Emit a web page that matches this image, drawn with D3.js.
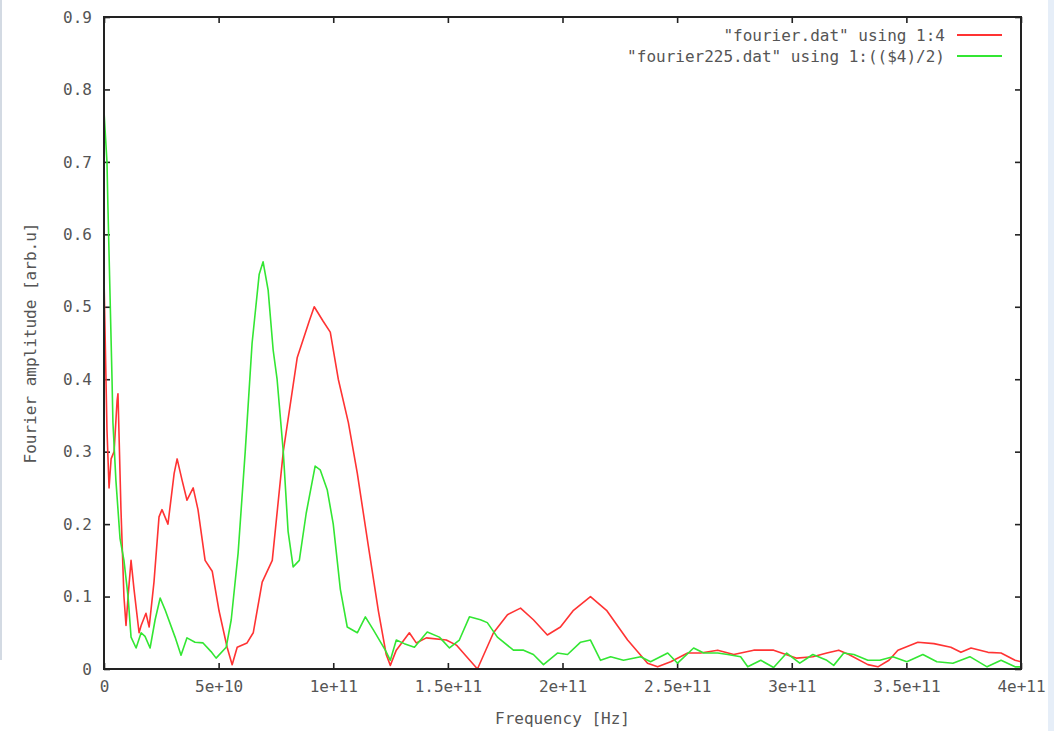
<!DOCTYPE html>
<html>
<head>
<meta charset="utf-8">
<script src="https://cdn.jsdelivr.net/npm/d3@7"></script>
<style>
  html, body { margin: 0; padding: 0; background: #fff; }
  svg text { font-family: "DejaVu Sans Mono", "Liberation Mono", monospace; font-size: 16px; fill: #555; }
  .axis path { display: none; }
  .axis line { stroke: #222; stroke-width: 1.6; }
</style>
</head>
<body>
<div id="chart"></div>
<script>
// frequencies in units of 1e9 Hz, amplitudes in arb. units
const redFreq = [0, 1.3, 2.2, 3.1, 4.4, 5.7, 6.1, 7.4, 8.7, 9.6, 10.5, 11.8, 13.1, 15.3, 16.2, 18.3, 19.7,
  21.8, 24.0, 25.3, 27.9, 30.6, 31.9, 34.1, 36.2, 38.9, 41.0, 44.1, 47.2, 50.2, 53.7, 55.9, 58.1,
  62.4, 65.1, 69.0, 73.4, 78.2, 84.3, 89.5, 91.7, 95.6, 98.7, 102.2, 106.6, 110.5, 115.3, 119.7,
  123.1, 124.9, 127.5, 133.2, 136.2, 140.6, 149.3, 153.7, 162.9, 169.9, 176.0, 181.7, 187.3, 193.4,
  199.1, 204.8, 212.2, 219.2, 228.4, 237.1, 241.5, 247.2, 254.6, 260.3, 267.7, 274.7, 283.4, 292.1,
  302.2, 309.2, 315.3, 320.5, 324.9, 333.2, 337.6, 342.4, 346.3, 355.0, 362.0, 369.4, 373.8, 378.2,
  385.6, 391.3, 397.4, 400];
const redAmp = [0.54, 0.33, 0.25, 0.29, 0.30, 0.37, 0.38, 0.22, 0.10, 0.06, 0.10, 0.15, 0.11, 0.05, 0.06, 0.077, 0.058,
  0.12, 0.21, 0.22, 0.20, 0.27, 0.29, 0.26, 0.233, 0.25, 0.22, 0.15, 0.135, 0.08, 0.03, 0.006, 0.03,
  0.036, 0.05, 0.12, 0.15, 0.30, 0.43, 0.48, 0.50, 0.48, 0.465, 0.40, 0.34, 0.27, 0.17, 0.08,
  0.02, 0.005, 0.026, 0.05, 0.036, 0.043, 0.04, 0.033, 0.0, 0.05, 0.075, 0.084, 0.068, 0.047,
  0.058, 0.081, 0.10, 0.081, 0.04, 0.008, 0.003, 0.01, 0.022, 0.022, 0.026, 0.02, 0.026, 0.026,
  0.015, 0.017, 0.022, 0.026, 0.02, 0.006, 0.003, 0.012, 0.026, 0.037, 0.035, 0.03, 0.023, 0.029,
  0.023, 0.022, 0.012, 0.01];

const greenFreq = [0, 1.3, 1.7, 3.5, 3.9, 5.2, 7.0, 8.7, 10.5, 11.8, 14.0, 16.2, 17.9, 20.1, 22.3, 24.5,
  26.6, 31.0, 33.6, 36.2, 39.7, 43.2, 46.7, 48.9, 53.3, 55.5, 58.5, 61.6, 64.6, 67.7, 69.4, 71.6,
  73.8, 75.5, 78.2, 80.3, 82.5, 85.2, 88.2, 92.1, 94.3, 97.4, 100.0, 103.1, 106.1, 110.5, 114.0,
  117.5, 122.7, 124.9, 127.5, 131.0, 135.4, 141.0, 146.3, 150.7, 155.0, 159.4, 164.2, 167.2, 171.6,
  178.6, 183.0, 187.3, 191.7, 197.8, 202.2, 207.9, 212.2, 216.6, 221.0, 226.6, 234.1, 238.4, 245.9,
  250.2, 257.2, 261.6, 267.7, 272.1, 277.7, 280.8, 286.5, 292.1, 297.8, 303.5, 309.2, 315.3, 318.3,
  322.7, 327.1, 333.2, 338.4, 344.1, 350.2, 357.2, 363.3, 370.3, 377.7, 385.2, 391.3, 397.4, 400];
const greenAmp = [0.77, 0.70, 0.64, 0.40, 0.34, 0.26, 0.18, 0.15, 0.10, 0.044, 0.029, 0.05, 0.045, 0.029, 0.068, 0.098,
  0.082, 0.044, 0.019, 0.043, 0.037, 0.036, 0.024, 0.015, 0.03, 0.068, 0.16, 0.30, 0.45, 0.545, 0.562, 0.523,
  0.44, 0.40, 0.30, 0.19, 0.141, 0.15, 0.215, 0.28, 0.275, 0.247, 0.20, 0.11, 0.058, 0.05, 0.072,
  0.054, 0.026, 0.012, 0.04, 0.035, 0.03, 0.051, 0.044, 0.029, 0.04, 0.072, 0.068, 0.064, 0.044,
  0.026, 0.026, 0.02, 0.006, 0.022, 0.02, 0.037, 0.04, 0.012, 0.017, 0.012, 0.017, 0.01, 0.022,
  0.008, 0.029, 0.022, 0.022, 0.02, 0.017, 0.003, 0.012, 0.002, 0.022, 0.008, 0.02, 0.012, 0.005,
  0.022, 0.02, 0.012, 0.012, 0.017, 0.01, 0.02, 0.01, 0.008, 0.017, 0.003, 0.012, 0.003, 0.003];

const xTicks = [0, 5e10, 1e11, 1.5e11, 2e11, 2.5e11, 3e11, 3.5e11, 4e11];
const xTickLabels = ['0', '5e+10', '1e+11', '1.5e+11', '2e+11', '2.5e+11', '3e+11', '3.5e+11', '4e+11'];
const yTicks = [0, 0.1, 0.2, 0.3, 0.4, 0.5, 0.6, 0.7, 0.8, 0.9];
const yTickLabels = ['0', '0.1', '0.2', '0.3', '0.4', '0.5', '0.6', '0.7', '0.8', '0.9'];
const seriesNames = ['"fourier.dat" using 1:4', '"fourier225.dat" using 1:(($4)/2)'];
const seriesColors = ['#ff3333', '#33e633'];

const W = 1054, H = 731;
const m = {top: 17, left: 104, right: 1054 - 1021, bottom: 731 - 669};
const width = W - m.left - m.right, height = H - m.top - m.bottom;

const svg = d3.select('#chart').append('svg')
    .attr('width', W).attr('height', H);

// window edges seen in the screenshot
svg.append('rect').attr('x', 0).attr('y', 0).attr('width', 2).attr('height', 660).attr('fill', '#d3dae3');
svg.append('rect').attr('x', 1048).attr('y', 0).attr('width', 6).attr('height', H).attr('fill', '#e6eef8');

const g = svg.append('g').attr('transform', `translate(${m.left},${m.top})`);

const x = d3.scaleLinear().domain([0, 4e11]).range([0, width]);
const y = d3.scaleLinear().domain([0, 0.9]).range([height, 0]);

const fmtX = d => xTickLabels[xTicks.indexOf(d)];
const fmtY = d => yTickLabels[yTicks.indexOf(d)];

g.append('g').attr('class', 'axis')
    .attr('transform', `translate(0,${height})`)
    .call(d3.axisBottom(x).tickValues(xTicks).tickFormat(fmtX).tickSize(-6).tickPadding(12));
g.append('g').attr('class', 'axis')
    .call(d3.axisTop(x).tickValues(xTicks).tickFormat('').tickSize(-6));
g.append('g').attr('class', 'axis')
    .call(d3.axisLeft(y).tickValues(yTicks).tickFormat(fmtY).tickSize(-6).tickPadding(12));
g.append('g').attr('class', 'axis')
    .attr('transform', `translate(${width},0)`)
    .call(d3.axisRight(y).tickValues(yTicks).tickFormat('').tickSize(-6));

g.selectAll('.axis text').attr('fill', '#555');

const line = d3.line().x(d => x(d[0] * 1e9)).y(d => y(d[1]));
const series = [d3.zip(redFreq, redAmp), d3.zip(greenFreq, greenAmp)];

g.selectAll('.series').data(series).enter().append('path')
    .attr('class', 'series')
    .attr('fill', 'none')
    .attr('stroke', (d, i) => seriesColors[i])
    .attr('stroke-width', 1.6)
    .attr('stroke-linejoin', 'round')
    .attr('d', line);

// frame
g.append('rect').attr('width', width).attr('height', height)
    .attr('fill', 'none').attr('stroke', '#222').attr('stroke-width', 2);

// legend
const leg = g.append('g').attr('transform', `translate(${945 - m.left},${35 - m.top})`);
seriesNames.forEach((name, i) => {
    leg.append('text').attr('x', 0).attr('y', i * 21).attr('dy', '0.35em')
        .attr('text-anchor', 'end').text(name);
    leg.append('line').attr('x1', 12).attr('x2', 57).attr('y1', i * 21).attr('y2', i * 21)
        .attr('stroke', seriesColors[i]).attr('stroke-width', 1.8);
});

// axis titles
svg.append('text').attr('x', m.left + width / 2).attr('y', 718).attr('dy', '0.35em')
    .attr('text-anchor', 'middle').text('Frequency [Hz]');
svg.append('text').attr('transform', `translate(30,${m.top + height / 2}) rotate(-90)`)
    .attr('dy', '0.35em').attr('text-anchor', 'middle').text('Fourier amplitude [arb.u]');
</script>
</body>
</html>
